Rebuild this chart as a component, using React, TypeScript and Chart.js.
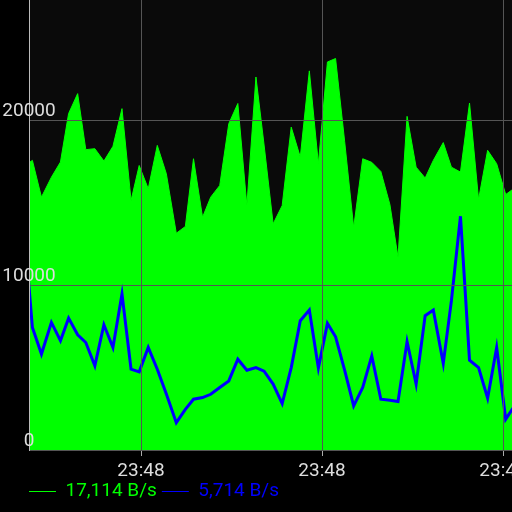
import { useEffect, useRef } from 'react';
import { Chart, registerables } from 'chart.js';

Chart.register(...registerables);

// time of each sample, seconds relative to 23:48:00
const BASE_SECONDS = 23 * 3600 + 48 * 60;
const times = [
  -13.0, -12.0, -11.0, -9.9, -8.9, -8.0, -7.0, -6.1, -5.1, -4.1, -3.1, -2.1, -1.1, -0.2,
  0.8, 1.8, 2.8, 3.9, 4.9, 5.8, 6.8, 7.7, 8.7, 9.7, 10.7, 11.7, 12.7, 13.6, 14.6, 15.6,
  16.6, 17.6, 18.6, 19.6, 20.6, 21.5, 22.5, 23.5, 24.5, 25.5, 26.5, 27.5, 28.4, 29.4,
  30.4, 31.4, 32.3, 33.4, 34.3, 35.3, 36.3, 37.3, 38.3, 39.3, 40.3, 41.3,
];
// received B/s (green area)
const rxValues = [
  17200, 17570, 15340, 16550, 17470, 20410, 21620, 18220, 18280, 17530, 18420, 20710, 15140, 17260,
  15850, 18480, 16760, 13150, 13560, 17670, 14120, 15340, 16050, 19800, 21020, 14830, 22630, 18500,
  13720, 14830, 19590, 17770, 23000, 17370, 23540, 23750, 18730, 13500, 17670, 17450, 16900, 14900,
  11690, 20240, 17160, 16500, 17570, 18650, 17160, 16860, 21050, 15200, 18180, 17370, 15500, 15900,
];
// sent B/s (blue line)
const txValues = [
  14000, 7430, 5820, 7740, 6630, 8000, 6990, 6520, 5110, 7600, 6220, 9460, 4900, 4740,
  6220, 4900, 3400, 1660, 2470, 3080, 3180, 3380, 3790, 4190, 5510, 4840, 5000, 4780,
  4000, 2820, 5000, 7840, 8490, 4970, 7680, 6870, 4850, 2670, 3790, 5710, 3080, 3020,
  2940, 6580, 3990, 8150, 8490, 5250, 9060, 14180, 5450, 5000, 3140, 6220, 1870, 2700,
];
const xTickValues = [0, 20, 40];
const yTickValues = [0, 10000, 20000];
const legendLabels = ['17,114 B/s', '5,714 B/s'];
const seriesColors = ['#00ff00', '#0000ff'];

const X_MIN = -12.376;
const X_MAX = 46.298;
const Y_MAX = 27300;

const FONT = { family: 'Roboto', size: 19 };

function fmtTime(t: number): string {
  const s = Math.floor(BASE_SECONDS + t);
  const h = Math.floor(s / 3600) % 24;
  const m = Math.floor(s / 60) % 60;
  return `${h}:${String(m).padStart(2, '0')}`;
}

const plotBg = {
  id: 'plotBg',
  beforeDraw(chart: any) {
    const { ctx, chartArea: a } = chart;
    ctx.save();
    ctx.fillStyle = '#0a0a0a';
    ctx.fillRect(a.left, a.top, a.right - a.left, a.bottom - a.top);
    ctx.restore();
  },
};

export default function App() {
  const ref = useRef<HTMLCanvasElement>(null);
  useEffect(() => {
    Chart.defaults.font.family = 'Roboto';
    const chart = new Chart(ref.current as HTMLCanvasElement, {
      type: 'line',
      data: {
        datasets: [
          {
            label: 'rx',
            data: times.map((t, i) => ({ x: t, y: rxValues[i] })),
            borderColor: seriesColors[0],
            backgroundColor: seriesColors[0],
            borderWidth: 1,
            fill: 'origin',
            pointRadius: 0,
            tension: 0,
            order: 2,
          },
          {
            label: 'tx',
            data: times.map((t, i) => ({ x: t, y: txValues[i] })),
            borderColor: seriesColors[1],
            backgroundColor: seriesColors[1],
            borderWidth: 3,
            fill: false,
            pointRadius: 0,
            tension: 0,
            order: 1,
          },
        ],
      },
      options: {
        animation: false,
        responsive: false,
        devicePixelRatio: 1,
        layout: { padding: { left: 24, right: 0, top: 0, bottom: 0 } },
        plugins: {
          tooltip: { enabled: false },
          legend: {
            position: 'bottom',
            align: 'start',
            labels: {
              font: FONT,
              boxWidth: 27,
              boxHeight: 1,
              padding: 5,
              generateLabels: () =>
                legendLabels.map((text, i) => ({
                  text,
                  fillStyle: seriesColors[i],
                  strokeStyle: seriesColors[i],
                  lineWidth: 0,
                  fontColor: seriesColors[i],
                  hidden: false,
                  datasetIndex: i,
                })),
            },
          },
        },
        scales: {
          x: {
            type: 'linear',
            min: X_MIN,
            max: X_MAX,
            afterBuildTicks: (s: any) => {
              s.ticks = xTickValues.map((v) => ({ value: v }));
            },
            afterFit: (s: any) => {
              s.height = 27;
            },
            grid: { z: 1, color: '#555555', lineWidth: 1, drawTicks: true, tickLength: 6, tickColor: '#aaaaaa' },
            border: { z: 1, color: '#bbbbbb', width: 1 },
            ticks: {
              z: 1,
              font: FONT,
              color: '#dddddd',
              padding: 4,
              maxRotation: 0,
              autoSkip: false,
              callback: (v: any) => fmtTime(Number(v)),
            },
          },
          y: {
            type: 'linear',
            min: 0,
            max: Y_MAX,
            afterBuildTicks: (s: any) => {
              s.ticks = yTickValues.map((v) => ({ value: v }));
            },
            afterFit: (s: any) => {
              s.width = 5;
            },
            grid: { z: 1, color: '#555555', lineWidth: 1, drawTicks: false },
            border: { z: 1, color: '#bbbbbb', width: 1 },
            ticks: {
              z: 1,
              font: FONT,
              color: '#dddddd',
              mirror: true,
              crossAlign: 'center',
              padding: -26.7,
              labelOffset: -9,
              callback: (v: any) => String(v),
            },
          },
        },
      },
      plugins: [plotBg],
    } as any);
    return () => chart.destroy();
  }, []);

  return (
    <div
      style={{
        position: 'fixed',
        left: 0,
        top: 0,
        width: 512,
        height: 512,
        overflow: 'hidden',
        background: '#000',
      }}
    >
      <canvas ref={ref} width={560} height={511} style={{ display: 'block', width: 560, height: 511 }} />
    </div>
  );
}
